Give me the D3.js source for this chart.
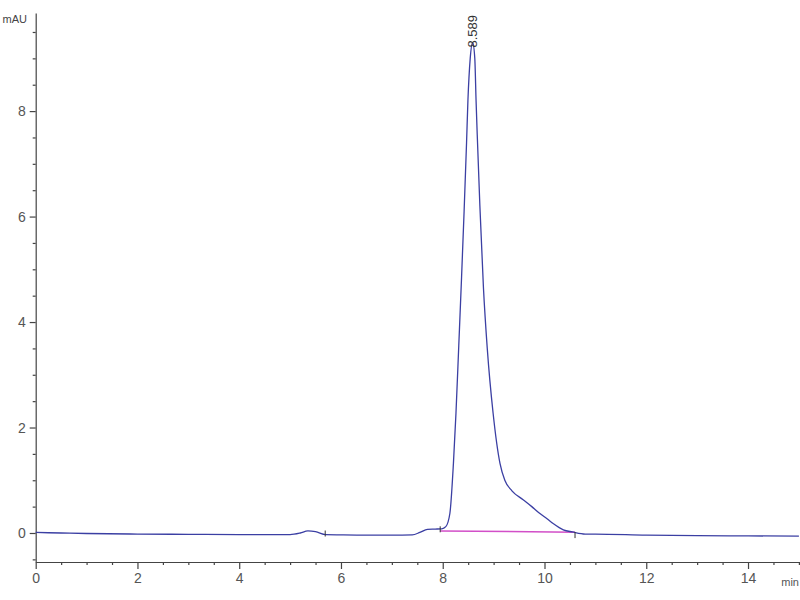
<!DOCTYPE html>
<html>
<head>
<meta charset="utf-8">
<script src="https://cdn.jsdelivr.net/npm/d3@7"></script>
<style>
  body { margin: 0; background: #fff; }
  svg { display: block; }
  .axis text { font-family: "Liberation Sans Narrow", "Liberation Sans", Arial, sans-serif; fill: #555; }
</style>
</head>
<body>
<svg></svg>
<script>
// chromatogram trace (min, mAU)
var timeMin = [0, 0.5, 1, 2, 3, 4, 4.5, 5.0, 5.2, 5.35, 5.5, 5.7, 6, 6.5, 7, 7.4, 7.55, 7.7, 7.85, 7.98,
  8.06, 8.14, 8.21, 8.26, 8.315, 8.37, 8.42, 8.468, 8.495, 8.54, 8.589, 8.63, 8.655, 8.678, 8.73, 8.80, 8.875,
  8.99, 9.125, 9.22, 9.36, 9.58, 9.75, 9.91, 10.05, 10.17, 10.37, 10.55, 10.8, 11, 12, 13, 14, 15];
var signal = [0.01, 0.0, -0.01, -0.02, -0.025, -0.03, -0.03, -0.03, 0.0, 0.04, 0.025, -0.03, -0.035, -0.04, -0.04, -0.035, 0.01, 0.07, 0.075, 0.08,
  0.12, 0.37, 1.32, 2.27, 3.55, 4.85, 6.1, 7.4, 8.2, 9.0, 9.3, 9.0, 8.2, 7.55, 6.2, 4.65, 3.5,
  2.27, 1.32, 1.0, 0.8, 0.63, 0.5, 0.37, 0.27, 0.18, 0.06, 0.02, -0.02, -0.02, -0.04, -0.05, -0.055, -0.06];

// integration baseline and markers
var baseTime = [7.95, 10.6];
var baseValue = [0.04, 0.013];
var markTime = [5.69, 7.95, 10.6];
var markValue = [-0.01, 0.07, -0.04];

var peakTime = 8.589, peakValue = 9.3, peakLabel = "8.589";
var xTicks = [0, 2, 4, 6, 8, 10, 12, 14];
var yTicks = [0, 2, 4, 6, 8];

var width = 800, height = 600;

var svg = d3.select("svg")
    .attr("width", width)
    .attr("height", height);

var x = d3.scaleLinear().domain([0, 15]).range([35.7, 798.9]);
var y = d3.scaleLinear().domain([-0.55, 9.86]).range([562, 13]);

var xMinor = d3.range(0, 15.01, 0.5).filter(function(d) { return d % 2 !== 0; });
var yMinor = d3.range(-0.5, 9.86, 0.5).filter(function(d) { return d % 2 !== 0; });

// x axis
svg.append("g")
    .attr("class", "axis")
    .attr("transform", "translate(0," + y.range()[0] + ")")
    .call(d3.axisBottom(x).tickValues(xMinor).tickSize(3).tickFormat(""))
    .call(function(g) { g.select(".domain").remove(); });

var xAxis = svg.append("g")
    .attr("class", "axis")
    .attr("transform", "translate(0," + y.range()[0] + ")")
    .call(d3.axisBottom(x).tickValues(xTicks).tickSize(7).tickSizeOuter(0).tickPadding(4).tickFormat(d3.format("d")));
xAxis.selectAll("text").style("font-size", "14px");

// y axis
svg.append("g")
    .attr("class", "axis")
    .attr("transform", "translate(" + x.range()[0] + ",0)")
    .call(d3.axisLeft(y).tickValues(yMinor).tickSize(3).tickFormat(""))
    .call(function(g) { g.select(".domain").remove(); });

var yAxis = svg.append("g")
    .attr("class", "axis")
    .attr("transform", "translate(" + x.range()[0] + ",0)")
    .call(d3.axisLeft(y).tickValues(yTicks).tickSize(6).tickSizeOuter(0).tickPadding(4).tickFormat(d3.format("d")));
yAxis.selectAll("text").style("font-size", "14px");

svg.selectAll(".axis path, .axis line")
    .attr("stroke", "#444")
    .attr("stroke-width", 1.2);

// units
svg.append("text")
    .attr("x", 27)
    .attr("y", 23)
    .attr("text-anchor", "end")
    .style("font-family", "'Liberation Sans Narrow', 'Liberation Sans', Arial, sans-serif")
    .style("font-size", "11px")
    .style("fill", "#444")
    .text("mAU");

svg.append("text")
    .attr("x", 799)
    .attr("y", 586)
    .attr("text-anchor", "end")
    .style("font-family", "'Liberation Sans Narrow', 'Liberation Sans', Arial, sans-serif")
    .style("font-size", "11px")
    .style("fill", "#555")
    .text("min");

// baseline
svg.append("line")
    .attr("x1", x(baseTime[0])).attr("y1", y(baseValue[0]))
    .attr("x2", x(baseTime[1])).attr("y2", y(baseValue[1]))
    .attr("stroke", "#d24fc8")
    .attr("stroke-width", 1.5);

// trace
var pts = timeMin.map(function(t, i) { return [t, signal[i]]; });

var line = d3.line()
    .x(function(d) { return x(d[0]); })
    .y(function(d) { return y(d[1]); })
    .curve(d3.curveMonotoneX);

svg.append("path")
    .datum(pts)
    .attr("d", line)
    .attr("fill", "none")
    .attr("stroke", "#3b3fa3")
    .attr("stroke-width", 1.3);

// integration markers
svg.selectAll(".mark")
    .data(markTime)
  .enter().append("line")
    .attr("class", "mark")
    .attr("x1", function(d) { return x(d); })
    .attr("x2", function(d) { return x(d); })
    .attr("y1", function(d, i) { return y(markValue[i]) - 3; })
    .attr("y2", function(d, i) { return y(markValue[i]) + 3; })
    .attr("stroke", "#333")
    .attr("stroke-width", 1);

// peak label
svg.append("text")
    .attr("transform", "translate(" + (x(peakTime) + 4.5) + "," + (y(peakValue) + 5) + ") rotate(-90)")
    .style("font-family", "'Liberation Sans Narrow', 'Liberation Sans', Arial, sans-serif")
    .style("font-size", "13px")
    .style("fill", "#333")
    .text(peakLabel);
</script>
</body>
</html>
